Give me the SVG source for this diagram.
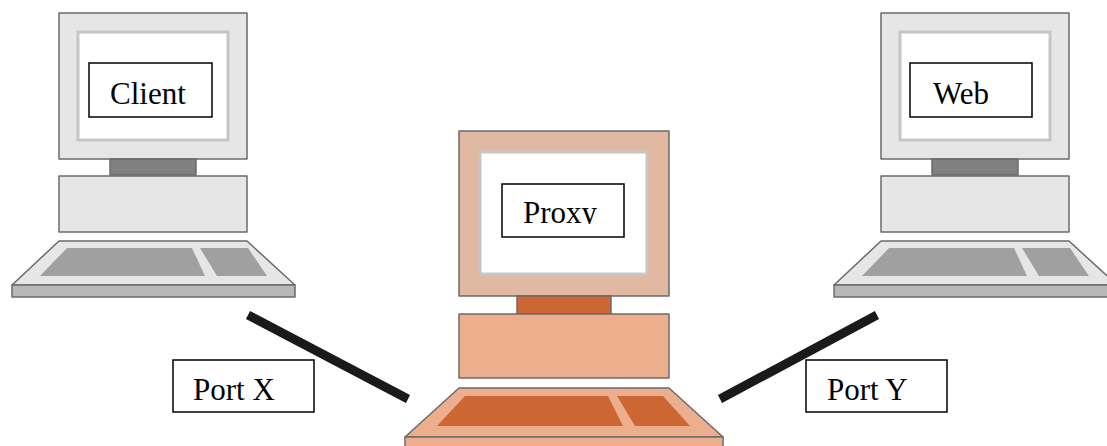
<svg xmlns="http://www.w3.org/2000/svg" width="1107" height="446" viewBox="0 0 1107 446">
  <style>
    .edge { stroke: #6b6b6b; stroke-width: 1.5; stroke-linejoin: round; }
    .screen { fill: #ffffff; stroke: #c6c6c6; stroke-width: 3; }
    .g-case { fill: #e6e6e6; }
    .g-neck { fill: #808080; }
    .g-key { fill: #a0a0a0; }
    .g-strip { fill: #b8b8b8; }
    .p-mon { fill: #e1b9a2; }
    .p-case { fill: #ecae8c; }
    .p-neck { fill: #cc6633; }
    .p-key { fill: #cc6633; }
    .label { fill: #ffffff; stroke: #000000; stroke-width: 1.5; }
    .txt { font-family: "Liberation Serif", "Times New Roman", serif; font-size: 31px; fill: #000000; }
    .link { stroke: #1a1a1a; stroke-width: 9; stroke-linecap: butt; }
  </style>
  <defs>
    <clipPath id="proxyClip">
      <rect x="502" y="184" width="122" height="40"/>
    </clipPath>
  </defs>

  <!-- cables between the machines -->
  <g id="connectors">
    <line class="link" x1="248" y1="315" x2="408" y2="399"/>
    <line class="link" x1="720" y1="399" x2="877" y2="315"/>
  </g>

  <!-- client workstation -->
  <g id="client">
    <rect class="g-case edge" x="59" y="13" width="188" height="146"/>
    <rect class="screen" x="78" y="32" width="150" height="108"/>
    <rect class="g-neck edge" x="110" y="159" width="86" height="16"/>
    <rect class="g-case edge" x="59" y="176" width="188" height="56"/>
    <polygon class="g-case edge" points="59,241 247,241 295,285 12,285"/>
    <rect class="g-strip edge" x="12" y="285" width="283" height="12"/>
    <polygon class="g-key" points="67,248 192,248 205,276 40,276"/>
    <polygon class="g-key" points="200,248 248,248 267,276 217,276"/>
    <rect class="label" x="89" y="63" width="123" height="54"/>
    <text class="txt" x="110" y="104">Client</text>
  </g>

  <!-- web server -->
  <g id="web">
    <rect class="g-case edge" x="881" y="13" width="188" height="146"/>
    <rect class="screen" x="900" y="32" width="150" height="108"/>
    <rect class="g-neck edge" x="932" y="159" width="86" height="16"/>
    <rect class="g-case edge" x="881" y="176" width="188" height="56"/>
    <polygon class="g-case edge" points="881,241 1069,241 1117,285 834,285"/>
    <rect class="g-strip edge" x="834" y="285" width="283" height="12"/>
    <polygon class="g-key" points="889,248 1014,248 1027,276 862,276"/>
    <polygon class="g-key" points="1022,248 1070,248 1089,276 1039,276"/>
    <rect class="label" x="910" y="63" width="122" height="54"/>
    <text class="txt" x="933" y="104">Web</text>
  </g>

  <!-- proxy machine -->
  <g id="proxy">
    <rect class="p-mon edge" x="459" y="131" width="210" height="165"/>
    <rect class="screen" x="480" y="152" width="167" height="122"/>
    <rect class="p-neck edge" x="517" y="296" width="94" height="18"/>
    <rect class="p-case edge" x="459" y="314" width="210" height="64"/>
    <polygon class="p-case edge" points="459,388 669,388 723,437 405,437"/>
    <rect class="p-case edge" x="405" y="437" width="318" height="12"/>
    <polygon class="p-key" points="465,396 608,396 623,426 437,426"/>
    <polygon class="p-key" points="617,396 663,396 690,426 635,426"/>
    <rect class="label" x="502" y="184" width="122" height="53"/>
    <text class="txt" x="523" y="223" clip-path="url(#proxyClip)">Proxy</text>
  </g>

  <!-- port labels -->
  <g id="port-x">
    <rect class="label" x="173" y="360" width="141" height="52"/>
    <text class="txt" x="193" y="400">Port X</text>
  </g>
  <g id="port-y">
    <rect class="label" x="806" y="360" width="141" height="52"/>
    <text class="txt" x="827" y="400">Port Y</text>
  </g>
</svg>
